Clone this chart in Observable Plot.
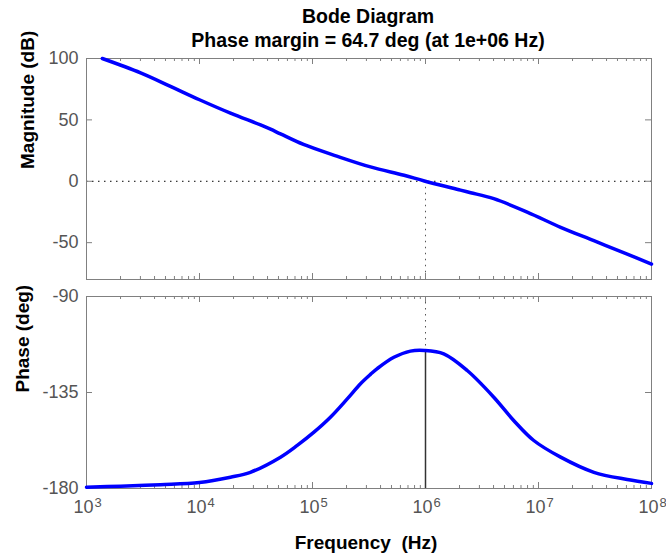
<!DOCTYPE html>
<html><head><meta charset="utf-8">
<script src="https://cdn.jsdelivr.net/npm/d3@7"></script>
<script src="https://cdn.jsdelivr.net/npm/@observablehq/plot@0.6"></script>
<style>
body{margin:0;background:#fff;}
#chart{position:relative;width:666px;height:556px;font-family:"Liberation Sans",Arial,sans-serif;}
#title{position:absolute;left:168px;top:4px;width:400px;text-align:center;font-weight:bold;font-size:19.5px;line-height:24px;color:#000;}
#top{position:absolute;left:0;top:0;}
#bottom{position:absolute;left:0;top:281px;}
</style></head>
<body><div id="chart"><div id="top"></div><div id="bottom"></div><div id="title">Bode Diagram<br>Phase margin = 64.7 deg (at 1e+06 Hz)</div></div>
<script>
// ---- data ----
const magFreq = [1.38e3, 3.01e3, 5.53e3, 1.0e4, 1.88e4, 3.47e4, 4.25e4, 5.21e4, 8.32e4, 1.64e5, 3.26e5, 6.46e5, 9.77e5, 2.04e6, 2.51e6, 4.02e6, 7.94e6, 1.57e7, 3.09e7, 6.10e7, 1.0e8];
const magDb   = [100.0, 88.3, 77.3, 66.4, 55.5, 45.9, 42.4, 38.6, 30.0, 20.5, 11.7, 4.9, 0.25, -7.2, -9.3, -14.2, -25.1, -37.5, -48.4, -59.3, -67.5];
const phaseFreq = [1.0e3, 2.0e3, 4.52e3, 1.0e4, 1.88e4, 2.82e4, 5.21e4, 7.33e4, 1.03e5, 1.44e5, 2.03e5, 2.66e5, 3.26e5, 3.74e5, 5.25e5, 7.36e5, 9.8e5, 1.45e6, 2.34e6, 4.02e6, 6.03e6, 9.08e6, 1.57e7, 3.09e7, 6.10e7, 1.0e8];
const phaseDeg  = [-179.4, -178.9, -178.2, -177.2, -174.7, -172.4, -165.3, -159.8, -153.6, -146.6, -138.0, -130.9, -126.5, -123.8, -118.5, -115.6, -115.3, -116.9, -124.7, -137.2, -148.1, -157.5, -165.3, -172.4, -175.8, -177.6];
const decades = [1e3, 1e4, 1e5, 1e6, 1e7, 1e8];
const decadeExp = ["3", "4", "5", "6", "7", "8"];
const magTicks = [100, 50, 0, -50];
const magTickLabels = ["100", "50", "0", "-50"];
const phaseTicks = [-90, -135, -180];
const phaseTickLabels = ["-90", "-135", "-180"];
const crossFreq = 1e6;
const phaseMargin = 64.7;
const magDomain = [-80, 100];
const phaseDomain = [-180, -90];
const xDomain = [1e3, 1e8];

// ---- layout ----
const W = 666, ML = 86, MR = 15;
const innerW = W - ML - MR;
const FONT = '"Liberation Sans", Arial, sans-serif';
const frameColor = "#808080";
const labelColor = "#555555";
const dotted = "1.5,4.5";
const crossPhase = -180 + phaseMargin;

const minor = [];
for (let k = 3; k < 8; k++) for (let m = 2; m <= 9; m++) minor.push(m * Math.pow(10, k));

function edgeTicks(innerH, yTicks) {
  return [
    Plot.tickX(decades, {x: d => d, stroke: frameColor, insetTop: innerH - 6}),
    Plot.tickX(decades, {x: d => d, stroke: frameColor, insetBottom: innerH - 6}),
    Plot.tickX(minor, {x: d => d, stroke: frameColor, insetTop: innerH - 3}),
    Plot.tickX(minor, {x: d => d, stroke: frameColor, insetBottom: innerH - 3}),
    Plot.tickY(yTicks, {y: d => d, stroke: frameColor, insetRight: innerW - 6}),
    Plot.tickY(yTicks, {y: d => d, stroke: frameColor, insetLeft: innerW - 6})
  ];
}

// ---- magnitude panel ----
const topH = 281, topMT = 58, topMB = 2;
const magData = magFreq.map((f, i) => ({f, v: magDb[i]}));
const topPlot = Plot.plot({
  width: W, height: topH, marginTop: topMT, marginBottom: topMB, marginLeft: ML, marginRight: MR,
  x: {type: "log", domain: xDomain, axis: null},
  y: {domain: magDomain, axis: null},
  style: {fontFamily: FONT, background: "transparent", overflow: "visible"},
  marks: [
    Plot.ruleY([0], {stroke: "#000", strokeDasharray: dotted}),
    Plot.ruleX([crossFreq], {y1: 0, y2: magDomain[0], stroke: "#555", strokeDasharray: dotted}),
    Plot.frame({stroke: frameColor}),
    ...edgeTicks(topH - topMT - topMB, magTicks),
    Plot.text(magTicks, {y: d => d, text: (d, i) => magTickLabels[i], frameAnchor: "left", textAnchor: "end", dx: -8, fontSize: 18, fill: labelColor}),
    Plot.text(["Magnitude (dB)"], {text: d => d, frameAnchor: "left", rotate: -90, dx: 33 - ML, lineAnchor: "bottom", fontSize: 19, fontWeight: "bold", fill: "#000"}),
    Plot.line(magData, {x: "f", y: "v", stroke: "#0000ff", strokeWidth: 3.5, curve: "catmull-rom"})
  ]
});
document.getElementById("top").appendChild(topPlot);

// ---- phase panel ----
const botH = 275, botMT = 15, botMB = 68;
const phaseData = phaseFreq.map((f, i) => ({f, v: phaseDeg[i]}));
const botPlot = Plot.plot({
  width: W, height: botH, marginTop: botMT, marginBottom: botMB, marginLeft: ML, marginRight: MR,
  x: {type: "log", domain: xDomain, axis: null},
  y: {domain: phaseDomain, axis: null},
  style: {fontFamily: FONT, background: "transparent", overflow: "visible"},
  marks: [
    Plot.ruleY([-180], {stroke: "#000", strokeDasharray: dotted}),
    Plot.ruleX([crossFreq], {y1: phaseDomain[1], y2: crossPhase, stroke: "#555", strokeDasharray: dotted}),
    Plot.frame({stroke: frameColor}),
    ...edgeTicks(botH - botMT - botMB, phaseTicks),
    Plot.ruleX([crossFreq], {y1: crossPhase, y2: phaseDomain[0], stroke: "#333", strokeWidth: 1.5}),
    Plot.text(phaseTicks, {y: d => d, text: (d, i) => phaseTickLabels[i], frameAnchor: "left", textAnchor: "end", dx: -8, fontSize: 18, fill: labelColor}),
    Plot.text(["Phase (deg)"], {text: d => d, frameAnchor: "left", rotate: -90, dx: 28 - ML, lineAnchor: "bottom", fontSize: 19, fontWeight: "bold", fill: "#000"}),
    Plot.text(decades, {x: d => d, text: () => "10", frameAnchor: "bottom", textAnchor: "end", dx: 7, dy: 24, lineAnchor: "bottom", fontSize: 18, fill: labelColor}),
    Plot.text(decades, {x: d => d, text: (d, i) => decadeExp[i], frameAnchor: "bottom", textAnchor: "start", dx: 8, dy: 18, lineAnchor: "bottom", fontSize: 13, fill: labelColor}),
    Plot.text(["Frequency  (Hz)"], {text: d => d, frameAnchor: "bottom", dx: -3, dy: 60, lineAnchor: "bottom", fontSize: 19, fontWeight: "bold", fill: "#000"}),
    Plot.line(phaseData, {x: "f", y: "v", stroke: "#0000ff", strokeWidth: 3.5, curve: "catmull-rom"})
  ]
});
botPlot.querySelectorAll("text").forEach(t => t.style.whiteSpace = "pre");
document.getElementById("bottom").appendChild(botPlot);
</script>
</body></html>
